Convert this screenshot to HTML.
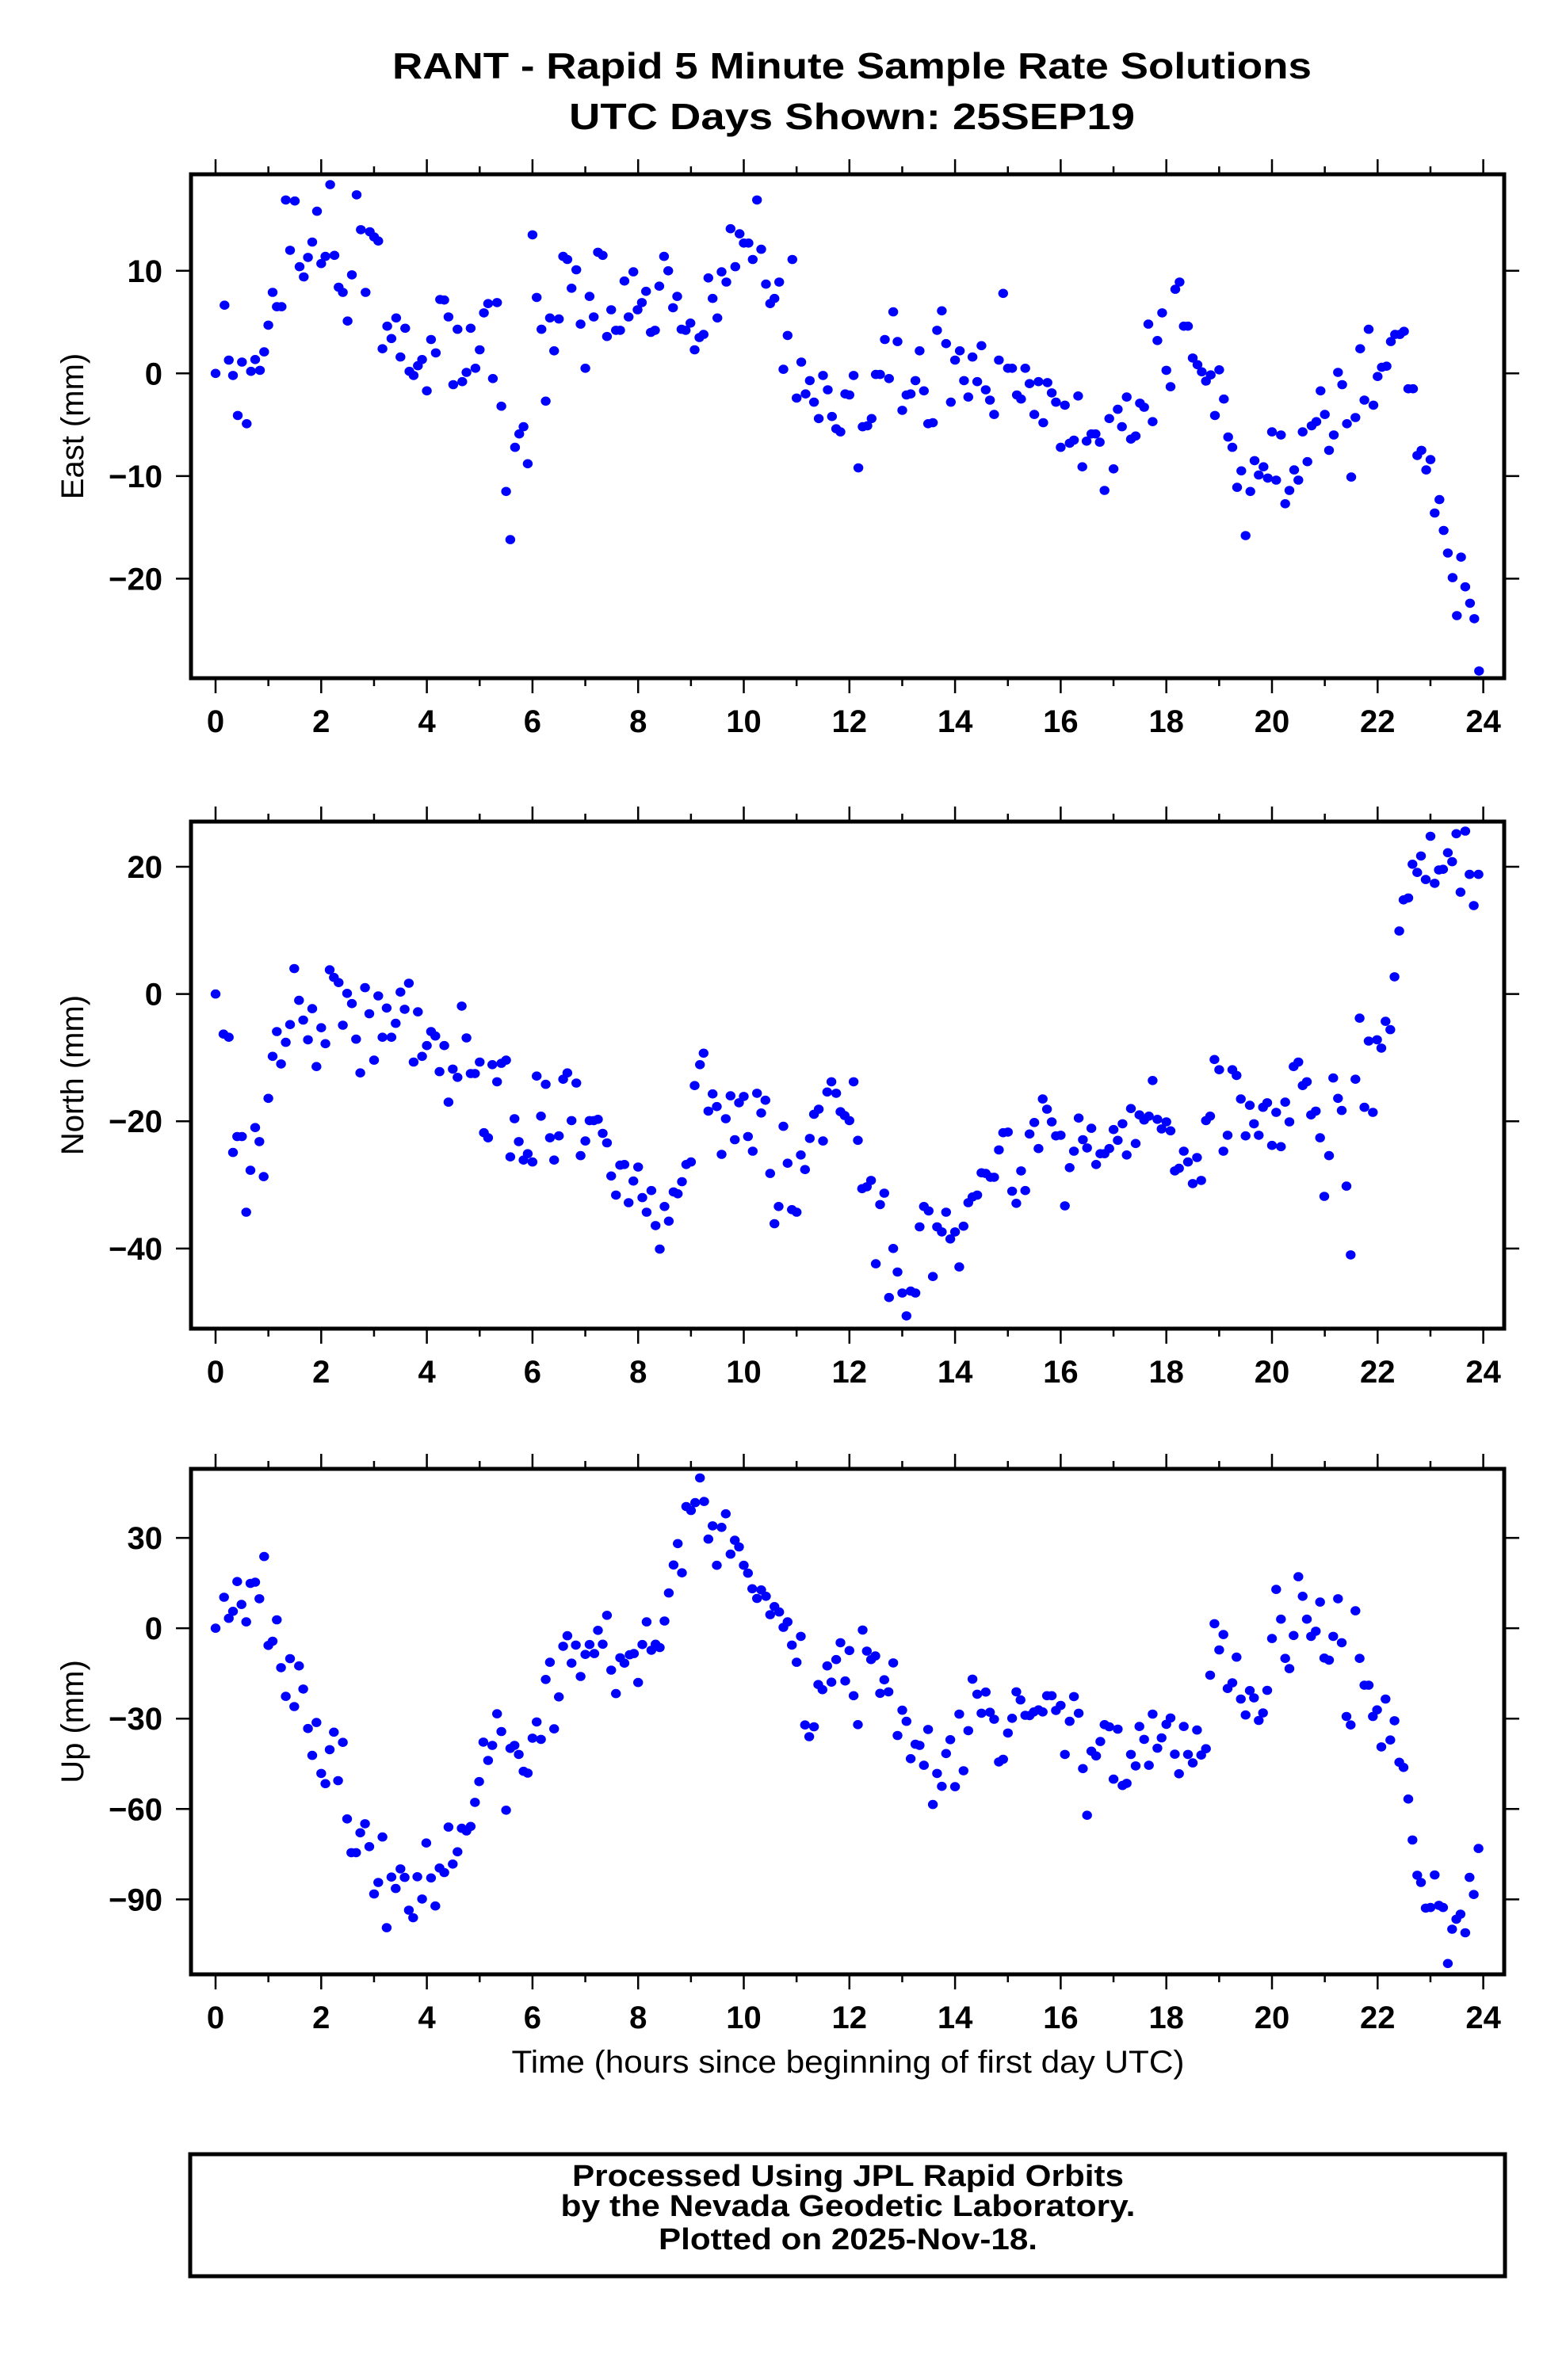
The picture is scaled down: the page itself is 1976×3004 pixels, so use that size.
<!DOCTYPE html>
<html>
<head>
<meta charset="utf-8">
<style>
html,body{margin:0;padding:0;background:#fff;}
svg{display:block;}
text{font-family:"Liberation Sans",sans-serif;fill:#000;}
</style>
</head>
<body>
<svg id="chart" xmlns="http://www.w3.org/2000/svg" width="1976" height="3004" viewBox="0 0 1976 3004">
  <rect x="0" y="0" width="1976" height="3004" fill="#fff"/>
  <text x="1075" y="99" font-size="46" font-weight="bold" text-anchor="middle" textLength="1160" lengthAdjust="spacingAndGlyphs">RANT - Rapid 5 Minute Sample Rate Solutions</text>
  <text x="1075" y="163" font-size="46" font-weight="bold" text-anchor="middle" textLength="714" lengthAdjust="spacingAndGlyphs">UTC Days Shown:  25SEP19</text>
  <text x="1070" y="2616" font-size="40" text-anchor="middle" textLength="849" lengthAdjust="spacingAndGlyphs">Time (hours since beginning of first day UTC)</text>
  <rect x="240" y="2719" width="1659" height="154" fill="none" stroke="#000" stroke-width="5"/>
  <text x="1070" y="2759" font-size="38" font-weight="bold" text-anchor="middle" textLength="696" lengthAdjust="spacingAndGlyphs">Processed Using JPL Rapid Orbits</text>
  <text x="1070" y="2797" font-size="38" font-weight="bold" text-anchor="middle" textLength="725" lengthAdjust="spacingAndGlyphs">by the Nevada Geodetic Laboratory.</text>
  <text x="1070" y="2839" font-size="38" font-weight="bold" text-anchor="middle" textLength="478" lengthAdjust="spacingAndGlyphs">Plotted on 2025-Nov-18.</text>
</svg>
<script>
// ---- data (hours, mm) ----
const eastT = [0,0.17,0.25,0.33,0.42,0.5,0.59,0.67,0.75,0.84,0.92,1,1.08,1.16,1.25,1.33,1.41,1.5,1.59,1.67,1.75,1.83,1.92,2,2.08,2.17,2.25,2.33,2.41,2.5,2.58,2.67,2.75,2.84,2.92,3,3.08,3.16,3.25,3.33,3.42,3.5,3.59,3.67,3.75,3.83,3.91,4,4.08,4.17,4.25,4.33,4.41,4.5,4.58,4.67,4.75,4.83,4.92,5,5.08,5.16,5.25,5.33,5.41,5.5,5.58,5.67,5.75,5.83,5.91,6,6.08,6.17,6.25,6.33,6.41,6.5,6.58,6.66,6.74,6.83,6.91,7,7.08,7.16,7.24,7.33,7.41,7.49,7.58,7.66,7.74,7.82,7.91,7.99,8.07,8.15,8.24,8.32,8.4,8.49,8.57,8.66,8.74,8.82,8.9,8.99,9.07,9.16,9.24,9.33,9.41,9.5,9.58,9.67,9.75,9.84,9.92,10,10.09,10.17,10.25,10.33,10.42,10.5,10.58,10.67,10.75,10.83,10.92,11,11.09,11.17,11.25,11.33,11.42,11.5,11.59,11.67,11.75,11.83,11.92,12,12.08,12.17,12.25,12.34,12.42,12.5,12.58,12.67,12.75,12.83,12.91,13,13.08,13.16,13.25,13.33,13.41,13.49,13.58,13.66,13.75,13.83,13.92,14,14.09,14.17,14.25,14.33,14.42,14.5,14.58,14.66,14.74,14.83,14.91,15,15.08,15.17,15.25,15.33,15.41,15.5,15.58,15.67,15.75,15.83,15.91,16,16.08,16.17,16.25,16.33,16.41,16.49,16.58,16.66,16.74,16.83,16.92,17,17.08,17.16,17.25,17.33,17.42,17.5,17.58,17.66,17.74,17.83,17.92,18,18.08,18.17,18.25,18.33,18.41,18.5,18.59,18.67,18.75,18.84,18.92,19,19.09,19.17,19.25,19.34,19.42,19.5,19.59,19.67,19.75,19.84,19.92,20,20.08,20.17,20.25,20.33,20.42,20.5,20.58,20.67,20.75,20.84,20.92,21,21.08,21.17,21.25,21.33,21.42,21.5,21.58,21.67,21.75,21.83,21.92,22,22.08,22.17,22.25,22.33,22.42,22.5,22.58,22.67,22.75,22.83,22.92,23,23.08,23.17,23.25,23.33,23.42,23.5,23.58,23.66,23.75,23.83,23.92];
const eastV = [0,6.65,1.3,-0.2,-4.1,1.1,-4.9,0.2,1.35,0.3,2.1,4.7,7.9,6.5,6.5,16.9,12,16.8,10.4,9.4,11.3,12.8,15.8,10.7,11.4,18.4,11.5,8.4,7.9,5.1,9.6,17.4,14,7.9,13.8,13.3,12.9,2.4,4.6,3.4,5.4,1.6,4.4,0.2,-0.2,0.75,1.35,-1.7,3.3,2,7.2,7.15,5.5,-1.1,4.3,-0.8,0.1,4.4,0.5,2.3,5.9,6.8,-0.5,6.9,-3.2,-11.5,-16.2,-7.2,-5.9,-5.2,-8.8,13.5,7.4,4.3,-2.7,5.4,2.2,5.3,11.4,11.1,8.3,10.1,4.8,0.5,7.5,5.5,11.8,11.5,3.6,6.2,4.2,4.2,9,5.5,9.9,6.2,6.9,8,4,4.2,8.5,11.4,10,6.4,7.5,4.3,4.2,4.9,2.3,3.5,3.8,9.3,7.3,5.4,9.9,8.9,14.1,10.4,13.6,12.7,12.7,11.1,16.9,12.1,8.7,6.8,7.3,8.9,0.4,3.7,11.1,-2.4,1.1,-2,-0.7,-2.8,-4.4,-0.2,-1.6,-4.2,-5.4,-5.7,-2,-2.1,-0.2,-9.2,-5.2,-5.1,-4.4,-0.1,-0.1,3.3,-0.5,6,3.1,-3.6,-2.1,-2,-0.7,2.2,-1.7,-4.9,-4.8,4.2,6.1,2.9,-2.8,1.3,2.2,-0.7,-2.3,1.6,-0.8,2.7,-1.6,-2.6,-4,1.3,7.8,0.5,0.5,-2.1,-2.5,0.5,-1,-4,-0.8,-4.8,-0.9,-1.9,-2.8,-7.2,-3.1,-6.8,-6.5,-2.2,-9.1,-6.6,-5.9,-5.9,-6.7,-11.4,-4.4,-9.3,-3.5,-5.2,-2.3,-6.4,-6.1,-2.9,-3.3,4.8,-4.7,3.2,5.9,0.3,-1.3,8.2,8.9,4.6,4.6,1.5,0.85,0.15,-0.75,-0.15,-4.1,0.35,-2.5,-6.2,-7.2,-11.1,-9.5,-15.8,-11.5,-8.5,-9.9,-9.1,-10.2,-5.7,-10.4,-6,-12.7,-11.4,-9.4,-10.4,-5.7,-8.6,-5.1,-4.7,-1.7,-4,-7.5,-6,0.1,-1.1,-4.9,-10.1,-4.3,2.4,-2.6,4.3,-3.1,-0.3,0.6,0.7,3.1,3.8,3.8,4.1,-1.5,-1.5,-8,-7.5,-9.4,-8.4,-13.6,-12.3,-15.3,-17.5,-19.9,-23.6,-17.9,-20.8,-22.4,-23.9,-29];

const northT = [0,0.15,0.25,0.33,0.41,0.5,0.58,0.66,0.75,0.83,0.91,1,1.08,1.16,1.24,1.33,1.41,1.49,1.58,1.66,1.75,1.83,1.91,2,2.08,2.16,2.24,2.33,2.41,2.49,2.58,2.66,2.74,2.83,2.91,3,3.08,3.16,3.24,3.33,3.41,3.5,3.58,3.66,3.75,3.83,3.91,4,4.08,4.16,4.24,4.33,4.41,4.49,4.58,4.66,4.75,4.83,4.91,5,5.08,5.16,5.24,5.33,5.41,5.5,5.58,5.66,5.74,5.83,5.91,6,6.08,6.16,6.25,6.33,6.41,6.5,6.58,6.66,6.74,6.83,6.91,7,7.08,7.16,7.24,7.33,7.41,7.49,7.58,7.66,7.74,7.82,7.91,8,8.08,8.16,8.25,8.33,8.41,8.5,8.58,8.67,8.75,8.83,8.91,9,9.07,9.17,9.24,9.33,9.41,9.49,9.58,9.66,9.75,9.83,9.91,10,10.08,10.17,10.25,10.33,10.41,10.5,10.58,10.66,10.75,10.83,10.91,11,11.08,11.16,11.25,11.33,11.42,11.5,11.58,11.66,11.75,11.83,11.91,12,12.08,12.16,12.24,12.33,12.41,12.5,12.58,12.66,12.75,12.83,12.91,13,13.08,13.16,13.25,13.33,13.41,13.5,13.58,13.66,13.75,13.83,13.91,14,14.08,14.16,14.25,14.33,14.42,14.5,14.58,14.67,14.74,14.83,14.91,15,15.08,15.16,15.25,15.33,15.41,15.5,15.58,15.66,15.74,15.83,15.91,16,16.08,16.17,16.25,16.34,16.42,16.5,16.58,16.67,16.75,16.83,16.92,17,17.08,17.17,17.25,17.33,17.42,17.49,17.58,17.67,17.74,17.83,17.91,18,18.08,18.16,18.24,18.33,18.41,18.5,18.58,18.66,18.75,18.83,18.91,19,19.08,19.16,19.25,19.33,19.41,19.5,19.58,19.66,19.75,19.83,19.91,20,20.08,20.17,20.25,20.33,20.41,20.5,20.58,20.66,20.74,20.83,20.91,20.99,21.08,21.16,21.25,21.32,21.41,21.49,21.58,21.66,21.75,21.83,21.91,21.99,22.07,22.15,22.24,22.32,22.41,22.49,22.58,22.66,22.75,22.82,22.91,23,23.08,23.16,23.24,23.33,23.41,23.49,23.57,23.66,23.74,23.82,23.91];
const northV = [0,-6.3,-6.8,-24.9,-22.4,-22.4,-34.3,-27.7,-21,-23.2,-28.7,-16.4,-9.8,-5.9,-11,-7.6,-4.8,4,-1,-4.1,-7.2,-2.3,-11.4,-5.3,-7.8,3.8,2.6,1.8,-4.9,0.1,-1.5,-7.1,-12.4,1,-3.1,-10.4,-0.3,-6.8,-2.2,-6.8,-4.6,0.3,-2.4,1.7,-10.7,-2.8,-9.8,-8.1,-5.9,-6.6,-12.2,-8.1,-17,-11.8,-13.1,-1.9,-6.9,-12.5,-12.5,-10.7,-21.8,-22.6,-11.1,-13.8,-10.9,-10.4,-25.6,-19.6,-23.2,-26.1,-25.1,-26.4,-12.9,-19.2,-14.2,-22.6,-26.1,-22.3,-13.4,-12.4,-19.9,-14,-25.4,-23.1,-19.9,-19.9,-19.7,-21.9,-23.4,-28.6,-31.6,-26.9,-26.8,-32.8,-29.4,-27.2,-32,-34.3,-30.9,-36.4,-40.1,-33.4,-35.7,-31.1,-31.4,-29.5,-26.8,-26.4,-14.4,-11.1,-9.3,-18.4,-15.7,-17.7,-25.2,-19.6,-16,-22.9,-17.1,-16.1,-22.4,-24.7,-15.6,-18.7,-16.7,-28.2,-36.1,-33.4,-20.8,-26.6,-33.9,-34.3,-25.3,-27.6,-22.7,-18.9,-18.1,-23.1,-15.4,-13.8,-15.6,-18.5,-19.1,-19.9,-13.8,-23,-30.6,-30.3,-29.3,-42.4,-33.1,-31.3,-47.7,-40,-43.7,-47,-50.6,-46.7,-47,-36.6,-33.4,-34.1,-44.4,-36.6,-37.4,-34.3,-38.5,-37.4,-42.9,-36.5,-32.8,-31.9,-31.6,-28.1,-28.2,-28.8,-28.8,-24.5,-21.8,-21.7,-31,-32.9,-27.8,-30.9,-22,-20.2,-24.3,-16.5,-18.1,-20.1,-22.3,-22.2,-33.3,-27.3,-24.7,-19.5,-22.9,-24.2,-21.1,-26.8,-25.1,-25.1,-24.3,-21.3,-23,-20.4,-25.3,-18,-23.5,-19,-19.8,-19.2,-13.6,-19.7,-21.2,-20.1,-21.5,-27.8,-27.4,-24.7,-26.4,-29.8,-25.7,-29.3,-19.9,-19.2,-10.3,-11.9,-24.7,-22.2,-11.9,-12.8,-16.5,-22.3,-17.5,-20.4,-22.2,-17.8,-17.1,-23.8,-18.6,-24,-17,-20.1,-11.4,-10.7,-14.4,-13.8,-19,-18.4,-22.6,-31.8,-25.4,-13.2,-16.4,-18.3,-30.2,-41,-13.4,-3.8,-17.8,-7.4,-18.6,-7.2,-8.5,-4.3,-5.6,2.7,9.9,14.8,15.1,20.4,19.1,21.7,18,24.8,17.4,19.5,19.6,22.2,20.8,25.2,16,25.6,18.8,13.9,18.8];

const upT = [0,0.16,0.25,0.33,0.41,0.49,0.58,0.66,0.75,0.83,0.92,1,1.08,1.16,1.24,1.33,1.41,1.49,1.58,1.66,1.75,1.83,1.91,2,2.08,2.16,2.24,2.32,2.41,2.49,2.57,2.66,2.74,2.83,2.91,3,3.08,3.16,3.24,3.33,3.41,3.5,3.58,3.66,3.74,3.82,3.91,3.99,4.08,4.16,4.24,4.33,4.41,4.49,4.58,4.66,4.75,4.83,4.91,4.99,5.07,5.16,5.24,5.33,5.41,5.5,5.58,5.66,5.74,5.83,5.91,6,6.08,6.16,6.25,6.33,6.41,6.5,6.58,6.66,6.74,6.82,6.91,7,7.08,7.17,7.24,7.33,7.41,7.49,7.58,7.66,7.74,7.84,7.92,8,8.08,8.16,8.25,8.33,8.41,8.5,8.58,8.67,8.75,8.83,8.91,9,9.08,9.17,9.25,9.33,9.41,9.49,9.58,9.66,9.75,9.83,9.91,10,10.08,10.16,10.25,10.33,10.42,10.5,10.58,10.67,10.75,10.83,10.91,11,11.08,11.16,11.24,11.33,11.41,11.49,11.58,11.66,11.75,11.83,11.92,12,12.08,12.16,12.25,12.33,12.41,12.49,12.58,12.66,12.74,12.83,12.91,13,13.08,13.16,13.25,13.33,13.41,13.49,13.58,13.66,13.75,13.83,13.91,14,14.08,14.16,14.25,14.33,14.42,14.5,14.58,14.66,14.74,14.83,14.91,15,15.08,15.16,15.24,15.33,15.41,15.49,15.58,15.66,15.74,15.83,15.91,16,16.08,16.17,16.25,16.34,16.42,16.5,16.58,16.67,16.75,16.83,16.92,17,17.08,17.17,17.25,17.33,17.42,17.49,17.58,17.67,17.74,17.83,17.91,18,18.08,18.16,18.24,18.33,18.41,18.5,18.58,18.66,18.75,18.83,18.91,19,19.08,19.16,19.25,19.33,19.41,19.5,19.58,19.66,19.75,19.83,19.91,20,20.08,20.17,20.25,20.33,20.41,20.5,20.58,20.66,20.74,20.83,20.91,20.99,21.08,21.16,21.25,21.32,21.41,21.49,21.58,21.66,21.75,21.83,21.91,21.99,22.07,22.15,22.24,22.32,22.41,22.49,22.58,22.66,22.75,22.82,22.91,23,23.08,23.16,23.24,23.33,23.41,23.49,23.57,23.66,23.74,23.82,23.91];
const upV = [0,10.3,3.3,5.6,15.5,7.9,2.1,14.9,15.3,9.8,23.8,-5.7,-4.3,2.8,-13.1,-22.6,-10.1,-26,-12.5,-20.2,-33.3,-42.2,-31.3,-48.2,-51.6,-40.3,-34.5,-50.6,-37.9,-63.3,-74.5,-74.5,-67.9,-64.9,-72.5,-88.2,-84.4,-69.3,-99.4,-82.6,-86.4,-79.9,-82.7,-93.6,-96.1,-82.5,-89.9,-71.3,-82.9,-92.2,-79.6,-81.1,-66,-78.3,-74.2,-66.4,-67.3,-65.8,-57.8,-50.9,-37.8,-43.9,-38.9,-28.4,-34.3,-60.4,-39.9,-38.9,-41.9,-47.5,-48.1,-36.5,-31.1,-36.9,-17,-11.3,-33.4,-22.8,-6,-2.5,-11.6,-5.6,-16,-8.7,-5.4,-8.4,-0.7,-5.3,4.3,-13.9,-21.7,-9.8,-11.6,-8.8,-8.4,-18,-5.4,2.1,-7.3,-5.3,-6.4,2.4,11.7,21,28.1,18.4,40.4,39.1,41.7,49.9,42.1,29.6,34,20.9,33.5,38,24.6,29.2,27,20.9,18.3,13.1,9.9,12.7,10.6,4.5,7.2,5.4,0.3,2.1,-5.6,-11.3,-2.7,-32.1,-36,-32.7,-18.7,-20.4,-12.5,-17.9,-10.4,-4.8,-17.5,-7.4,-22.4,-32,-0.6,-7.6,-10.4,-9.2,-21.6,-17.1,-21.1,-11.5,-35.6,-27.2,-30.9,-43.3,-38.5,-38.9,-45.5,-33.6,-58.5,-48.2,-52.5,-41.6,-37,-52.6,-28.5,-47.3,-34,-16.9,-21.9,-28.2,-21.2,-27.9,-30.2,-44.4,-43.5,-34.8,-29.9,-21.1,-23.8,-28.9,-29,-27.8,-27.1,-27.8,-22.4,-22.4,-27.3,-25.6,-41.9,-30.9,-22.7,-28.2,-46.6,-62.1,-40.8,-42.4,-37.6,-32,-32.7,-50.1,-33.5,-52.2,-51.5,-41.9,-45.7,-32.6,-36.9,-45.5,-28.5,-39.8,-36.4,-31.9,-29.8,-41.8,-48.3,-32.6,-41.9,-44.7,-33.8,-42.1,-40,-15.6,1.5,-7.2,-2.1,-20,-18.1,-9.6,-23.5,-28.8,-20.7,-23.1,-30.6,-28.1,-20.6,-3.4,12.9,3,-10,-13.4,-2.4,17.1,10.6,3,-2.7,-1,8.7,-9.9,-10.6,-2.7,9.8,-4.8,-29.3,-32.1,5.8,-10,-18.9,-18.9,-29.3,-27.1,-39.4,-23.5,-37.1,-30.7,-44.5,-46.2,-56.7,-70.3,-82,-84.4,-92.9,-92.7,-81.9,-92,-92.7,-111.3,-99.9,-96.6,-94.9,-101.1,-82.7,-88.4,-73.1];

const xTickLabels = ["0","2","4","6","8","10","12","14","16","18","20","22","24"];
const eastTicks = [10, 0, -10, -20];
const northTicks = [20, 0, -20, -40];
const upTicks = [30, 0, -30, -60, -90];

// ---- rendering ----
const NS = "http://www.w3.org/2000/svg";
const svg = document.getElementById("chart");
const FRAME_L = 241, FRAME_R = 1898, X0 = 272, PX_PER_H = 66.65;
function xScale(h){ return X0 + h * PX_PER_H; }
function mk(tag, attrs, parent){
  const e = document.createElementNS(NS, tag);
  for (const k in attrs) e.setAttribute(k, attrs[k]);
  (parent || svg).appendChild(e);
  return e;
}
function fmt(v){ return v < 0 ? "\u2212" + Math.abs(v) : String(v); }

const panels = [
  {key:"east", title:"East (mm)", top:220, bottom:856, vMax:19.4, vMin:-29.7, t:eastT, v:eastV, ticks:eastTicks},
  {key:"north", title:"North (mm)", top:1037, bottom:1677, vMax:27.1, vMin:-52.6, t:northT, v:northV, ticks:northTicks},
  {key:"up", title:"Up (mm)", top:1854, bottom:2492, vMax:52.9, vMin:-114.9, t:upT, v:upV, ticks:upTicks}
];

panels.forEach(p => {
  const yScale = v => p.top + (p.vMax - v) / (p.vMax - p.vMin) * (p.bottom - p.top);
  const g = mk("g", {});
  
  

  const pts = mk("g", {fill:"#0000ff"}, g);
  
  
  for (let i = 0; i < p.t.length; i++) {
    const c = mk("ellipse", {cx:xScale(p.t[i]).toFixed(1), cy:yScale(p.v[i]).toFixed(1), rx:6.2, ry:5.8}, pts);
    
    
  }

  const xt = mk("g", {stroke:"#000", "stroke-width":2.5}, g);
  
  
  for (let h = 0; h <= 24; h++) {
    const len = (h % 2 === 0) ? 19 : 10;
    const x = xScale(h);
    mk("line", {x1:x, x2:x, y1:p.top - len, y2:p.top}, xt);
    mk("line", {x1:x, x2:x, y1:p.bottom, y2:p.bottom + len}, xt);
  }
  xTickLabels.forEach((lab, i) => {
    const t = mk("text", {x:xScale(i * 2), y:p.bottom + 68, "font-size":40, "font-weight":"bold", "text-anchor":"middle"}, g);
    t.textContent = lab;
    
    
  });
  p.ticks.forEach(v => {
    const y = yScale(v);
    mk("line", {x1:FRAME_L - 19, x2:FRAME_L, y1:y, y2:y, stroke:"#000", "stroke-width":2.5}, g);
    mk("line", {x1:FRAME_R, x2:FRAME_R + 19, y1:y, y2:y, stroke:"#000", "stroke-width":2.5}, g);
    const t = mk("text", {x:205, y:y + 14, "font-size":40, "font-weight":"bold", "text-anchor":"end"}, g);
    t.textContent = fmt(v);
    
    
  });
  const fr = mk("rect", {x:FRAME_L, y:p.top, width:FRAME_R - FRAME_L, height:p.bottom - p.top, fill:"none", stroke:"#000", "stroke-width":5}, g);
  
  
  const cy = (p.top + p.bottom) / 2;
  const yt = mk("text", {x:105, y:cy, "font-size":40, "text-anchor":"middle", transform:"rotate(-90 105 " + cy + ")"}, g);
  yt.textContent = p.title;
  
  
});
</script>
</body>
</html>
